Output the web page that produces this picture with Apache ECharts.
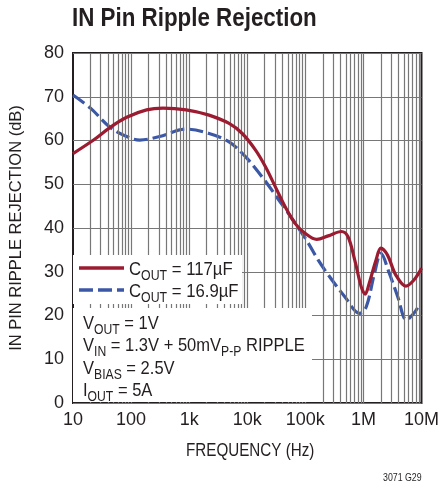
<!DOCTYPE html>
<html><head><meta charset="utf-8">
<script src="https://cdn.jsdelivr.net/npm/echarts@6/dist/echarts.min.js"></script>
<style>html,body{margin:0;padding:0;background:#fff}#c{width:442px;height:489px}</style>
</head><body><div id="c"></div>
<script>
var FONT = '"Liberation Sans", Arial, sans-serif';
var titleText = 'IN Pin Ripple Rejection';
var yAxisTitle = 'IN PIN RIPPLE REJECTION (dB)';
var xAxisTitle = 'FREQUENCY (Hz)';
var noteText = '3071 G29';
var xTickValues = [10, 100, 1000, 10000, 100000, 1000000, 10000000];
var xTickLabels = ['10', '100', '1k', '10k', '100k', '1M', '10M'];
var redFreq = [10, 22.6, 43.7, 84, 185, 355, 890, 2200, 4870, 8200, 13900, 20600, 30500, 45200, 67000, 99000, 157000, 248000, 418000, 543000, 708000, 915000, 1070000, 1260000, 1650000, 2000000, 2600000, 3600000, 5400000, 7400000, 10000000];
var redVal  = [57.0, 60.1, 63.0, 65.3, 67.0, 67.4, 67.0, 65.8, 63.9, 61.6, 57.8, 54.0, 49.4, 44.8, 41.0, 38.8, 37.4, 38.2, 39.2, 38.0, 32.7, 26.6, 24.9, 27.4, 32.7, 35.4, 33.8, 29.3, 26.7, 28.1, 30.8];
var blueFreq = [10, 20, 43.7, 84, 141, 310, 890, 2200, 4870, 9300, 18000, 35000, 67000, 113000, 166000, 248000, 478000, 860000, 1120000, 1550000, 2000000, 2800000, 3900000, 5500000, 7400000, 9100000];
var blueVal  = [70.4, 67.4, 63.0, 60.9, 60.1, 60.9, 62.6, 61.6, 59.7, 56.3, 51.7, 46.4, 41.1, 36.5, 32.7, 29.3, 24.3, 20.5, 22.0, 29.6, 34.2, 29.6, 24.3, 19.0, 20.5, 22.4];
var legendNames = ['117µF', '16.9µF'];
var conditions = [
  [['V', ''], ['OUT', 's'], [' = 1V', '']],
  [['V', ''], ['IN', 's'], [' = 1.3V + 50mV', ''], ['P-P', 's'], [' RIPPLE', '']],
  [['V', ''], ['BIAS', 's'], [' = 2.5V', '']],
  [['I', ''], ['OUT', 's'], [' = 5A', '']]
];
var minorFreq = [];
for (var d = 10; d < 1e7; d *= 10) { for (var k = 2; k <= 9; k++) minorFreq.push(d * k); }
for (var j = 1; j < xTickValues.length - 1; j++) minorFreq.push(xTickValues[j]);

function pairs(f, v) { return f.map(function (x, i) { return [x, v[i]]; }); }
function richStr(parts) {
  return parts.map(function (p) { return '{' + (p[1] ? 's' : 'b') + '|' + p[0] + '}'; }).join('');
}
var INK = '#231f20';
var rich = {
  b: { fontSize: 19, fontFamily: FONT, color: INK, lineHeight: 22, verticalAlign: 'bottom' },
  s: { fontSize: 14, fontFamily: FONT, color: INK, lineHeight: 22, verticalAlign: 'bottom', padding: [0, 0, -4, 0] }
};
function txt(x, y, text, sx, extra) {
  var st = { x: 0, y: 0, text: text, rich: rich, fill: INK, align: 'left', verticalAlign: 'top' };
  for (var key in (extra || {})) st[key] = extra[key];
  return { type: 'text', z: 11, x: x, y: y, scaleX: sx, style: st };
}

var chart = echarts.init(document.getElementById('c'));
var gridColor = '#777';
var graphics = [
  { type: 'rect', z: 10, shape: { x: 73, y: 255, width: 169, height: 49 }, style: { fill: '#fff' } },
  { type: 'rect', z: 10, shape: { x: 73, y: 308, width: 239, height: 94 }, style: { fill: '#fff' } },
  { type: 'line', z: 11, shape: { x1: 79, y1: 268, x2: 124, y2: 268 }, style: { stroke: '#9b1b30', lineWidth: 3.5 } },
  { type: 'line', z: 11, shape: { x1: 79, y1: 290, x2: 124, y2: 290 }, style: { stroke: '#3b57a6', lineWidth: 3.5, lineDash: [14, 5] } },
  txt(129, 257, richStr([['C', ''], ['OUT', 's'], [' = ' + legendNames[0], '']]), 0.88),
  txt(129, 279, richStr([['C', ''], ['OUT', 's'], [' = ' + legendNames[1], '']]), 0.88),
  txt(72, 6, titleText, 0.86, { rich: null, font: 'bold 26px ' + FONT }),
  txt(186, 441, xAxisTitle, 0.8, { rich: null, font: '19px ' + FONT }),
  txt(383, 472, noteText, 0.8, { rich: null, font: '11px ' + FONT })
];
conditions.forEach(function (c, i) {
  graphics.push(txt(83, 311 + i * 22.5, richStr(c), 0.87));
});

chart.setOption({
  animation: false,
  grid: { left: 72.5, right: 18, top: 53, bottom: 86, show: true, borderColor: INK, borderWidth: 2, backgroundColor: 'transparent' },
  xAxis: {
    type: 'log', logBase: 10, min: 10, max: 1e7,
    axisLine: { show: false }, axisTick: { show: false },
    axisLabel: { fontFamily: FONT, fontSize: 18, color: INK, margin: 8,
      formatter: function (v) { var i = xTickValues.indexOf(Math.round(v)); return i >= 0 ? xTickLabels[i] : ''; } },
    splitLine: { show: false }
  },
  yAxis: {
    type: 'value', min: 0, max: 80, interval: 10,
    name: yAxisTitle, nameLocation: 'middle', nameGap: 48,
    nameTextStyle: { fontFamily: FONT, fontSize: 16.5, color: INK },
    axisLine: { show: false }, axisTick: { show: false },
    axisLabel: { fontFamily: FONT, fontSize: 18, color: INK, margin: 9 },
    splitLine: { show: true, lineStyle: { color: gridColor, width: 1.2 } }
  },
  graphic: graphics,
  series: [
    { type: 'line', name: 'grid', data: [], silent: true, z: 1,
      markLine: { silent: true, symbol: 'none', label: { show: false }, animation: false,
        lineStyle: { color: gridColor, width: 1.2, type: 'solid' },
        data: minorFreq.map(function (f) { return { xAxis: f }; }) } },
    { type: 'line', name: 'C117', data: pairs(redFreq, redVal), smooth: 0.35, showSymbol: false, z: 5,
      lineStyle: { color: '#9b1b30', width: 3.2 } },
    { type: 'line', name: 'C16.9', data: pairs(blueFreq, blueVal), smooth: 0.35, showSymbol: false, z: 4,
      lineStyle: { color: '#3b57a6', width: 3.2, type: [14, 5] } }
  ]
});
</script></body></html>
